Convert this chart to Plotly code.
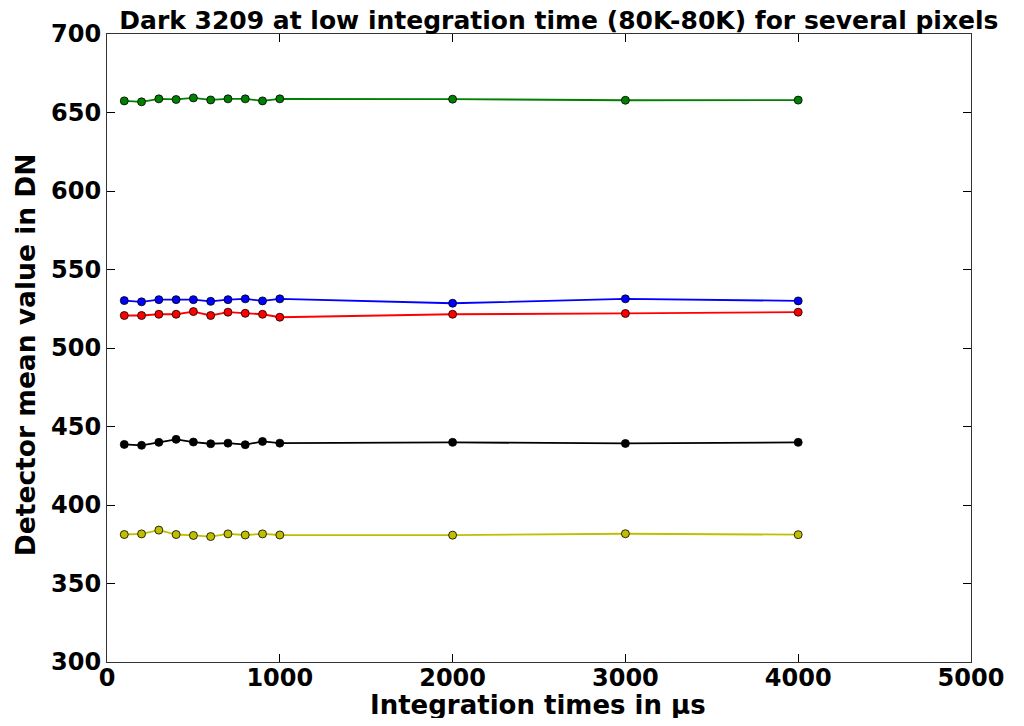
import plotly.graph_objects as go

# integration times (µs)
times = [100, 200, 300, 400, 500, 600, 700, 800, 900, 1000, 2000, 3000, 4000]

# detector mean values (DN) per pixel
green_px = [657.4, 656.8, 658.7, 658.3, 659.3, 658.0, 658.7, 658.7, 657.4, 658.7, 658.5, 657.8, 657.9]
blue_px = [530.2, 529.4, 530.8, 530.8, 530.8, 529.7, 530.8, 531.3, 530.0, 531.3, 528.5, 531.3, 530.0]
red_px = [520.7, 520.7, 521.5, 521.5, 523.2, 520.7, 522.8, 522.1, 521.5, 519.6, 521.5, 522.0, 522.8]
black_px = [438.6, 438.0, 439.9, 441.8, 440.1, 439.0, 439.4, 438.4, 440.5, 439.4, 439.9, 439.2, 439.9]
yellow_px = [381.2, 381.6, 384.0, 381.2, 380.6, 379.9, 381.6, 380.9, 381.6, 380.9, 380.8, 381.7, 381.1]

series = [
    (green_px, '#008000'),
    (blue_px, '#0000ff'),
    (red_px, '#ff0000'),
    (black_px, '#000000'),
    (yellow_px, '#bfbf00'),
]

FONT = 'DejaVu Sans'

data = []
for vals, col in series:
    data.append(go.Scatter(
        x=times,
        y=vals,
        mode='lines+markers',
        line=dict(color=col, width=1.8),
        marker=dict(size=8, color=col, line=dict(color='#000000', width=0.8)),
        showlegend=False,
    ))

axis_common = dict(
    showgrid=False,
    zeroline=False,
    showline=True,
    linecolor='#333333',
    linewidth=1.2,
    mirror='ticks',
    ticks='inside',
    ticklen=8,
    tickwidth=1,
    tickcolor='#000000',
    ticklabeloverflow='allow',
    tickfont=dict(family=FONT, size=24, color='#000000', weight='bold'),
)

# page body keeps its 8px margin all round, so the figure is 1008x710
layout = go.Layout(
    width=1008,
    height=710,
    paper_bgcolor='white',
    plot_bgcolor='white',
    margin=dict(l=99, r=31, t=25, b=56),
    title=dict(
        text='Dark 3209 at low integration time (80K-80K) for several pixels',
        font=dict(family=FONT, size=25, color='#000000', weight='bold'),
        x=0.523, xref='paper', xanchor='center',
        y=0.983, yref='container', yanchor='middle', pad=dict(t=0, b=0),
    ),
    xaxis=dict(axis_common, range=[0, 5000], dtick=1000, tick0=0,
               ticklabelstandoff=-6),
    yaxis=dict(axis_common, range=[300, 700], dtick=50, tick0=300),
    annotations=[
        dict(text='Integration times in µs', xref='paper', yref='paper',
             x=0.499, y=-0.069, xanchor='center', yanchor='middle', showarrow=False,
             font=dict(family=FONT, size=26, color='#000000', weight='bold')),
        dict(text='Detector mean value in DN', xref='paper', yref='paper',
             x=-0.095, y=0.49, xanchor='center', yanchor='middle', showarrow=False,
             textangle=-90,
             font=dict(family=FONT, size=26.5, color='#000000', weight='bold')),
    ],
)

fig = go.Figure(data=data, layout=layout)
fig.write_html('out.html', config={'displayModeBar': False})
